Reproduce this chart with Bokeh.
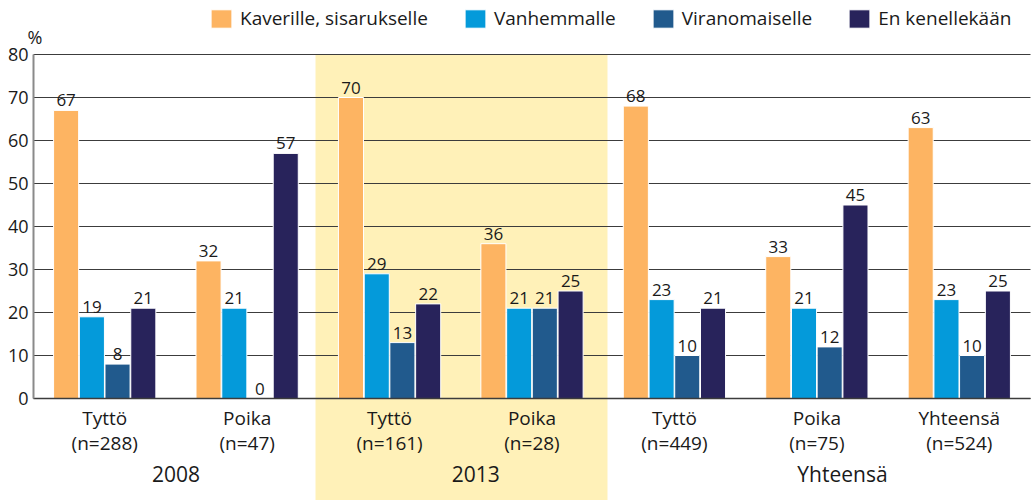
from bokeh.plotting import figure
from bokeh.models import (Range1d, ColumnDataSource, BoxAnnotation, Legend,
                          LegendItem, Label, FixedTicker, LinearAxis)
from bokeh.core.properties import value
from bokeh.embed import file_html
from bokeh.resources import INLINE

FONT = "Open Sans"

categories = ["Tyttö", "Poika", "Tyttö", "Poika", "Tyttö", "Poika", "Yhteensä"]
n_labels = ["(n=288)", "(n=47)", "(n=161)", "(n=28)", "(n=449)", "(n=75)", "(n=524)"]
groups = ["2008", "2013", "Yhteensä"]
group_sizes = [2, 2, 3]
highlight_group = 1
series_names = ["Kaverille, sisarukselle", "Vanhemmalle", "Viranomaiselle", "En kenellekään"]
kaverille = [67, 32, 70, 36, 68, 33, 63]
vanhemmalle = [19, 21, 29, 21, 23, 21, 23]
viranomaiselle = [8, 0, 13, 21, 10, 12, 10]
en_kenellekaan = [21, 57, 22, 25, 21, 45, 25]
y_ticks = [0, 10, 20, 30, 40, 50, 60, 70, 80]

colors = ["#FDB462", "#049ADA", "#215A8D", "#28235B"]
series = [kaverille, vanhemmalle, viranomaiselle, en_kenellekaan]
offsets = [-0.271, -0.09, 0.09, 0.271]
group_label_shift = [0.0, 0.105, 0.18]

# layout in pixels: the frame covers the whole canvas
W, H = 1034, 500
PL, PR, PT, PB = 33, 1030, 54, 398
ncat = len(categories)
ymax = y_ticks[-1]
xu = (PR - PL) / ncat
yu = (PB - PT) / ymax
x_range = Range1d(-PL / xu, ncat + (W - PR) / xu)
y_range = Range1d(-(H - PB) / yu, ymax + PT / yu)

centers = [i + 0.5 for i in range(ncat)]
group_centers, group_edges = [], []
start = 0
for g, sh in zip(group_sizes, group_label_shift):
    group_centers.append(start + g / 2 + sh)
    group_edges.append((start, start + g))
    start += g

p = figure(width=W, height=H, output_backend="svg", toolbar_location=None,
           x_range=x_range, y_range=y_range,
           min_border_left=0, min_border_right=0, min_border_top=0, min_border_bottom=0)
p.outline_line_color = None

hl = group_edges[highlight_group]
band = BoxAnnotation(left=hl[0] - 0.02, right=hl[1] + 0.03, top=ymax, bottom=y_range.start - 5,
                     fill_color="#FFF1B8", fill_alpha=1, line_color=None, level="image")
p.add_layout(band)

# grid lines limited to plot area
grid = p.ygrid[0]
grid.ticker = FixedTicker(ticks=y_ticks)
grid.grid_line_color = "#3c3c3c"
grid.grid_line_width = 1
p.xgrid.grid_line_color = None
if "cross_bounds" in grid.properties():
    grid.cross_bounds = (0, ncat)
else:
    grid.grid_line_color = None
    p.segment(x0=[0] * len(y_ticks), x1=[ncat] * len(y_ticks), y0=y_ticks, y1=y_ticks,
              line_color="#3c3c3c", line_width=1, level="underlay")

renderers = []
for i, s in enumerate(series):
    xs = [c + offsets[i] for c in centers]
    src = ColumnDataSource(dict(x=xs, top=s, t=[str(v) for v in s]))
    r = p.vbar(x="x", top="top", width=0.176, source=src, fill_color=colors[i],
               line_color="white", line_width=1)
    renderers.append(r)
    p.text(x="x", y="top", text="t", source=src, text_align="center",
           text_baseline="bottom", y_offset=-4, text_font=value(FONT),
           text_font_size="17px", text_color="#1a1a1a")

ya = p.yaxis[0]
ya.fixed_location = 0
ya.bounds = (0, ymax)
ya.ticker = FixedTicker(ticks=y_ticks)
ya.major_tick_line_color = None
ya.minor_tick_line_color = None
ya.major_tick_out = 0
ya.major_tick_in = 0
ya.axis_line_color = "#8a8a8a"
ya.axis_line_width = 2
ya.major_label_text_font = FONT
ya.major_label_text_font_size = "18px"
ya.major_label_text_color = "#1a1a1a"
ya.major_label_standoff = 5


def style_x(ax, size, standoff):
    ax.fixed_location = 0
    ax.major_tick_line_color = None
    ax.minor_tick_line_color = None
    ax.major_tick_out = 0
    ax.major_tick_in = 0
    ax.major_label_text_font = FONT
    ax.major_label_text_font_size = size
    ax.major_label_text_color = "#1a1a1a"
    ax.major_label_standoff = standoff


xa = p.xaxis[0]
xa.ticker = FixedTicker(ticks=centers)
xa.major_label_overrides = {c: lab for c, lab in zip(centers, categories)}
xa.axis_line_color = "#3c3c3c"
xa.axis_line_width = 1.5
xa.bounds = (0, ncat)
style_x(xa, "19px", 6)

xb = LinearAxis(ticker=FixedTicker(ticks=centers),
                major_label_overrides={c: lab for c, lab in zip(centers, n_labels)},
                axis_line_color=None)
style_x(xb, "19px", 31)
p.add_layout(xb, "below")

xc = LinearAxis(ticker=FixedTicker(ticks=group_centers),
                major_label_overrides={c: lab for c, lab in zip(group_centers, groups)},
                axis_line_color=None)
style_x(xc, "21px", 61)
p.add_layout(xc, "below")

p.add_layout(Label(x=0, y=ymax, text="%", x_offset=-6, y_offset=6, text_align="left",
                   text_baseline="bottom", text_font=FONT, text_font_size="18px",
                   text_color="#1a1a1a"))

legend = Legend(items=[LegendItem(label=n, renderers=[r]) for n, r in zip(series_names, renderers)],
                orientation="horizontal", location=(208, 469), glyph_width=26, glyph_height=23,
                label_text_font=FONT, label_text_font_size="19px", label_text_color="#1a1a1a",
                label_standoff=6, spacing=34, border_line_color=None, background_fill_alpha=0,
                padding=2, margin=0)
p.add_layout(legend)

open("out.html", "w").write(file_html(p, INLINE))
